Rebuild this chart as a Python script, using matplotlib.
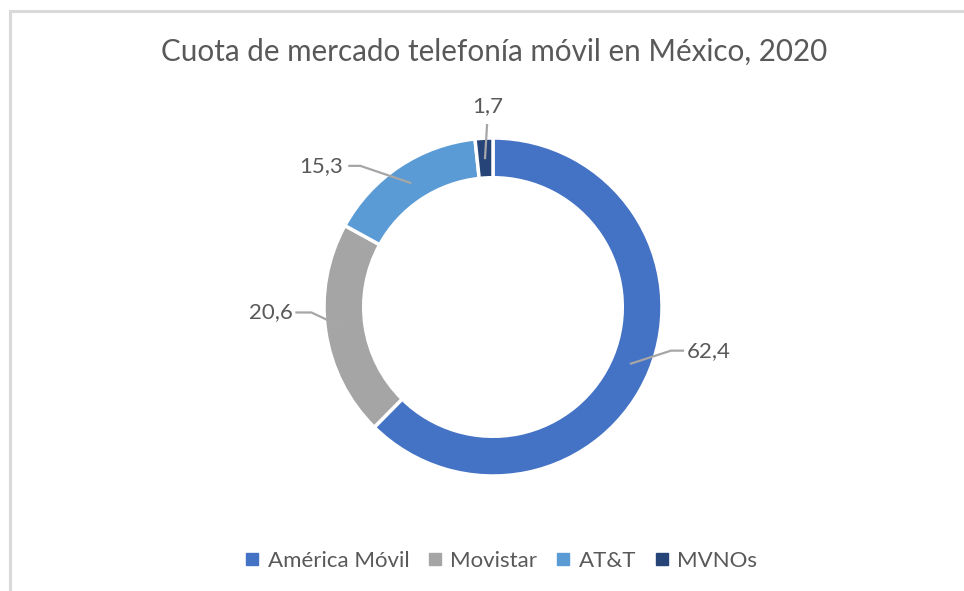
import numpy as np
import matplotlib
matplotlib.use("Agg")
import matplotlib.pyplot as plt
from matplotlib.lines import Line2D

# ---- data ----
categories = ["América Móvil", "Movistar", "AT&T", "MVNOs"]
shares = [62.4, 20.6, 15.3, 1.7]
labels = ["62,4", "20,6", "15,3", "1,7"]
colors = ["#4472C4", "#A5A5A5", "#5B9BD5", "#264478"]
title = "Cuota de mercado telefonía móvil en México, 2020"

W, H = 964, 591
fig = plt.figure(figsize=(W / 100, H / 100), dpi=100)
ax = fig.add_axes([0, 0, 1, 1])
ax.set_xlim(0, W)
ax.set_ylim(0, H)
ax.set_aspect("equal")
ax.axis("off")

FONT = "Lato"
TXT = "#595959"

# frame border (top and left visible)
ax.plot([9.5, 9.5], [0, H - 10], color="#D9D9D9", lw=2.2, solid_capstyle="butt")
ax.plot([8.5, W], [H - 10.5, H - 10.5], color="#D9D9D9", lw=2.2, solid_capstyle="butt")

cx, cy = 493, H - 307
R = 169
ring = 0.235

wedges, _ = ax.pie(shares, colors=colors, startangle=90, counterclock=False,
                   center=(cx, cy), radius=R, frame=True,
                   wedgeprops=dict(width=R * ring, edgecolor="white", linewidth=2.5))
ax.set_xlim(0, W)
ax.set_ylim(0, H)
ax.axis("off")

# leader lines & labels (offsets in pixels: elbow point, end point, text position)
layout = [
    dict(elbow=(40, 13), end=(52, 13), text=(56, 13), ha="left"),
    dict(elbow=(-34, 16), end=(-49, 16), text=(-53, 16), ha="right"),
    dict(elbow=(-50, 17), end=(-61, 17), text=(-67, 17), ha="right"),
    dict(elbow=(2, 33), end=(2, 33), text=(3, 52), ha="center"),
]
rm = R * (1 - ring / 2)
for w, lab, lo in zip(wedges, labels, layout):
    ang = np.deg2rad((w.theta1 + w.theta2) / 2)
    ax_, ay_ = cx + rm * np.cos(ang), cy + rm * np.sin(ang)
    ex, ey = ax_ + lo["elbow"][0], ay_ + lo["elbow"][1]
    fx, fy = ax_ + lo["end"][0], ay_ + lo["end"][1]
    ax.plot([ax_, ex, fx], [ay_, ey, fy], color="#A6A6A6", lw=1.6, zorder=5)
    ax.text(ax_ + lo["text"][0], ay_ + lo["text"][1], lab, ha=lo["ha"], va="center",
            fontsize=16, color=TXT, family=FONT, zorder=6)

ax.text(W / 2 + 12, H - 52, title, ha="center", va="center", fontsize=21.3,
        color=TXT, family=FONT)

handles = [Line2D([], [], marker="s", linestyle="none", markersize=8,
                  markerfacecolor=c, markeredgecolor=c) for c in colors]
leg = ax.legend(handles, categories, loc="center", bbox_to_anchor=(498 / W, 1 - 561 / H),
                ncol=4, frameon=False, handletextpad=0.1, columnspacing=0.55,
                prop=dict(family=FONT, size=16), labelcolor=TXT, handlelength=1.2)

fig.savefig("out.png", dpi=100, facecolor="white")
